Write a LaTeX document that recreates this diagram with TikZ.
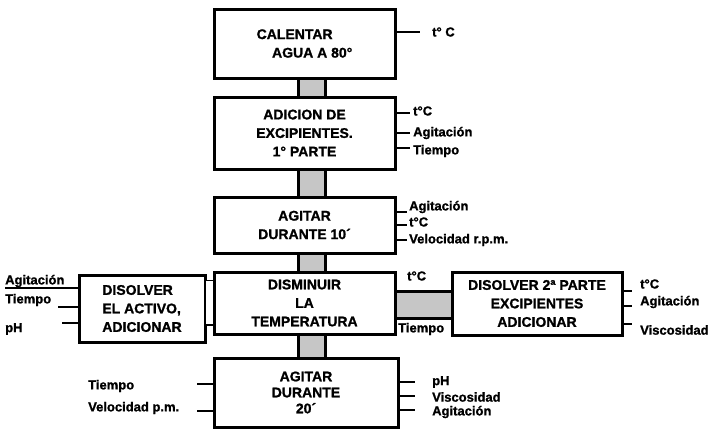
\documentclass[tikz,border=0pt]{standalone}
\usepackage{fontspec}
\setmainfont{Liberation Sans}[BoldFeatures={FakeBold=1.2}]
\usetikzlibrary{calc}
\begin{document}
\begin{tikzpicture}[x=1pt,y=-1pt,
 box/.style={draw, line width=3pt, anchor=north west, align=center, outer sep=0pt, inner sep=0pt,
   font=\fontsize{14}{18.5}\selectfont\bfseries},
 conn/.style={draw, line width=3pt, fill=gray!45},
 lconn/.style={draw, line width=1.8pt, fill=white},
 tick/.style={line width=1.8pt},
 lbl/.style={font=\fontsize{13}{15}\selectfont\bfseries, inner sep=0pt, anchor=west}]
\useasboundingbox (0,0) rectangle (716,429);
% boxes
\node[box, minimum width=181pt, minimum height=69pt, align=left] (b1) at (214,9) {CALENTAR\\\hspace*{1.1em}AGUA A 80°};
\node[box, minimum width=181pt, minimum height=72pt] (b2) at (214,97) {ADICION DE\\EXCIPIENTES.\\1° PARTE};
\node[box, minimum width=181pt, minimum height=56pt] (b3) at (214,197) {AGITAR\\DURANTE 10´};
\node[box, minimum width=181pt, minimum height=62pt] (b4) at (214,272) {DISMINUIR\\LA\\TEMPERATURA};
\node[box, minimum width=126pt, minimum height=67pt, align=left] (bL) at (79,275) {DISOLVER\\EL ACTIVO,\\ADICIONAR};
\node[box, minimum width=170pt, minimum height=63pt] (bR) at (452,272) {DISOLVER 2ª PARTE\\EXCIPIENTES\\ADICIONAR};
\node[box, minimum width=184pt, minimum height=69pt, font=\fontsize{14}{16}\selectfont\bfseries] (b5) at (214,358) {AGITAR\\DURANTE\\20´};
% vertical connectors
\draw[conn] ($(b1.south)+(-6,0)$) rectangle ($(b2.north)+(21,0)$);
\draw[conn] ($(b2.south)+(-6,0)$) rectangle ($(b3.north)+(21,0)$);
\draw[conn] ($(b3.south)+(-6,0)$) rectangle ($(b4.north)+(21,0)$);
\coordinate (c4a) at ($(b4.south)+(-6,0)$);
\coordinate (c4b) at ($(b4.south)+(21,0)$);
\draw[conn] (c4a) rectangle (c4b |- b5.north);
% horizontal connectors
\draw[conn] ($(b4.east)+(0,-12)$) rectangle ($(bR.west)+(0,15)$);
\draw[lconn] ($(bL.east)+(0,-28)$) rectangle ($(b4.west)+(0,22)$);
\node[lbl] (ct) at (407,276) {t°C};
\node[lbl] (cti) at (398,329) {Tiempo};
% b1 labels
\draw[tick] (b1.east |- 0,32) -- ++(25,0);
\node[lbl] (l1) at (432,32) {t° C};
% b2 labels
\draw[tick] (b2.east |- 0,113) -- ++(15,0);
\draw[tick] (b2.east |- 0,133) -- ++(15,0);
\draw[tick] (b2.east |- 0,148) -- ++(15,0);
\node[lbl] (l2a) at (413,111) {t°C};
\node[lbl] (l2b) at (413,133) {Agitación};
\node[lbl] (l2c) at (413,151) {Tiempo};
% b3 labels
\draw[tick] (b3.east |- 0,212) -- ++(12,0);
\draw[tick] (b3.east |- 0,225) -- ++(12,0);
\draw[tick] (b3.east |- 0,240) -- ++(12,0);
\node[lbl] (l3a) at (409,207) {Agitación};
\node[lbl] (l3b) at (409,222) {t°C};
\node[lbl] (l3c) at (409,240) {Velocidad r.p.m.};
% bR labels
\draw[tick] (bR.east |- 0,291) -- ++(10,0);
\draw[tick] (bR.east |- 0,306) -- ++(10,0);
\draw[tick] (bR.east |- 0,324) -- ++(10,0);
\node[lbl] (lRa) at (640,284) {t°C};
\node[lbl] (lRb) at (640,302) {Agitación};
\node[lbl] (lRc) at (640,330) {Viscosidad};
% bL labels
\draw[tick] (bL.west |- 0,288) -- (5,288);
\draw[tick] (bL.west |- 0,307) -- (58,307);
\draw[tick] (bL.west |- 0,323) -- (62,323);
\node[lbl] (lLa) at (5,281) {Agitación};
\node[lbl] (lLb) at (5,300) {Tiempo};
\node[lbl] (lLc) at (5,329) {pH};
% b5 labels
\draw[tick] (b5.west |- 0,384) -- ++(-17,0);
\draw[tick] (b5.west |- 0,411) -- ++(-17,0);
\node[lbl] (l5a) at (88,386) {Tiempo};
\node[lbl] (l5b) at (88,408) {Velocidad p.m.};
\draw[tick] (b5.east |- 0,382) -- ++(17,0);
\draw[tick] (b5.east |- 0,396) -- ++(17,0);
\draw[tick] (b5.east |- 0,410) -- ++(17,0);
\node[lbl] (l5c) at (432,382) {pH};
\node[lbl] (l5d) at (432,397) {Viscosidad};
\node[lbl] (l5e) at (432,412) {Agitación};
\end{tikzpicture}
\end{document}
